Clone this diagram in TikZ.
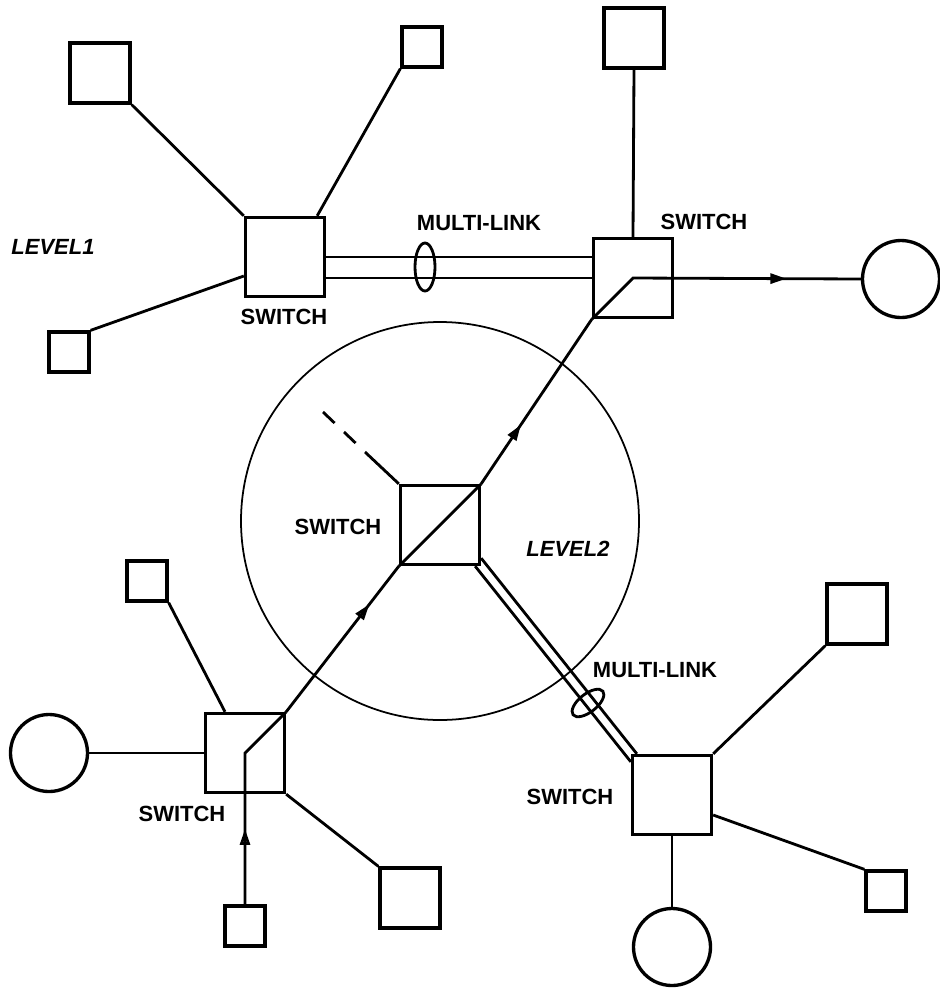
\documentclass[tikz,border=0pt]{standalone}
\usepackage{fontspec}
\setmainfont{Liberation Sans}
\usetikzlibrary{arrows.meta,decorations.markings}

\tikzstyle{switch} = [rectangle, draw=black, line width=1.9pt, minimum size=15.8mm, inner sep=0pt]
\tikzstyle{host} = [rectangle, draw=black, line width=1.9pt, minimum size=8mm, inner sep=0pt]
\tikzstyle{bighost} = [host, minimum size=12mm]
\tikzstyle{server} = [circle, draw=black, line width=1.9pt, minimum size=15.4mm, inner sep=0pt]
\tikzstyle{link} = [line width=1.6pt]
\tikzstyle{swname} = [font=\fontsize{12.5}{14}\selectfont\bfseries]
\tikzstyle{levelname} = [font=\fontsize{12.5}{14}\selectfont\bfseries\itshape]
\tikzset{flow/.style={link, postaction=decorate, decoration={markings,
  mark=at position #1 with {\arrow{Triangle[open, length=3.2mm, width=2mm]}}}}}

\begin{document}
\begin{tikzpicture}[x=0.2mm, y=-0.2mm]
\useasboundingbox (0,0) rectangle (940,988);

% switches
\node (sw1) [switch] at (285,257) {};
\node (sw2) [switch] at (633,278) {};
\node (core) [switch] at (440,525) {};
\node (sw3) [switch] at (245,753) {};
\node (sw4) [switch] at (672,795) {};

% hosts and servers
\node (ta) [bighost] at (100,73) {};
\node (tb) [host] at (422,47) {};
\node (tc) [host] at (69,352) {};
\node (td) [bighost] at (634,38) {};
\node (sa) [server] at (901,279) {};
\node (sb) [server] at (49,753) {};
\node (te) [host] at (147,581) {};
\node (tf) [host] at (245,926) {};
\node (tg) [bighost] at (410,898) {};
\node (th) [bighost] at (857,614) {};
\node (ti) [host] at (886,891) {};
\node (sc) [server] at (672,947) {};

% texts
\node (l1) [levelname] at (53,247) {LEVEL1};
\node (l2) [levelname] at (568,549) {LEVEL2};
\node (n1) [swname] at (284,317) {SWITCH};
\node (n2) [swname] at (704,222) {SWITCH};
\node (n3) [swname] at (338,527) {SWITCH};
\node (n4) [swname] at (182,814) {SWITCH};
\node (n5) [swname] at (570,797) {SWITCH};
\node (m1) [swname] at (479,223) {MULTI-LINK};
\node (m2) [swname] at (655,670) {MULTI-LINK};

% level 2 boundary
\coordinate (lvl2) at (440,521);
\draw[line width=1pt] (lvl2) circle [radius=199];

% level 1 links
\draw[link] (ta.south east) -- (sw1.north west);
\draw[link] (tb.south west) -- ([xshift=-1.8mm]sw1.north east);
\draw[link] (tc.north east) -- ([yshift=-3.8mm]sw1.west);
\draw[link] (td.south) -- (sw2.north);
\draw[link] (sw1.east) -- (sw1.east -| sw2.west);
\draw[link] (sw2.west -| sw1.east) -- (sw2.west);
\coordinate (loopa) at (425,267);
\draw[link] (loopa) ellipse [x radius=10, y radius=24];

% lower switches
\draw[link] (sb.east) -- (sw3.west);
\draw[link] (te.south east) -- ([xshift=-4mm]sw3.north);
\draw[link] (sw3.south east) -- (tg.north west);
\draw[link] (sw4.north east) -- (th.south west);
\draw[link] ([yshift=-4mm]sw4.east) -- (ti.north west);
\draw[link] (sw4.south) -- (sc.north);

% multi-link between core and sw4
\draw[link] ([shift={(0,-8)}]core.south east) -- ([shift={(6,0)}]sw4.north west);
\draw[link] ([shift={(-6,0)}]core.south east) -- ([shift={(0,8)}]sw4.north west);
\coordinate (loopb) at (588,703);
\draw[link, rotate around={38.4:(loopb)}] (loopb) ellipse [x radius=19, y radius=9];

% unused port of the core switch
\coordinate (dmid) at (365,452);
\coordinate (dend) at (323,412);
\draw[link] (core.north west) -- (dmid);
\draw[link, dash pattern=on 3.2mm off 2.6mm] (dend) -- (dmid);

% path through the switches
\draw[flow=0.36] (tf.north) -- (sw3.center) -- (sw3.north east);
\draw[flow=0.74] (sw3.north east) -- (core.south west);
\draw[link] (core.south west) -- (core.north east);
\draw[flow=0.36] (core.north east) -- (sw2.south west);
\draw[flow=0.74] (sw2.south west) -- (sw2.center) -- (sa.west);

\end{tikzpicture}
\end{document}
